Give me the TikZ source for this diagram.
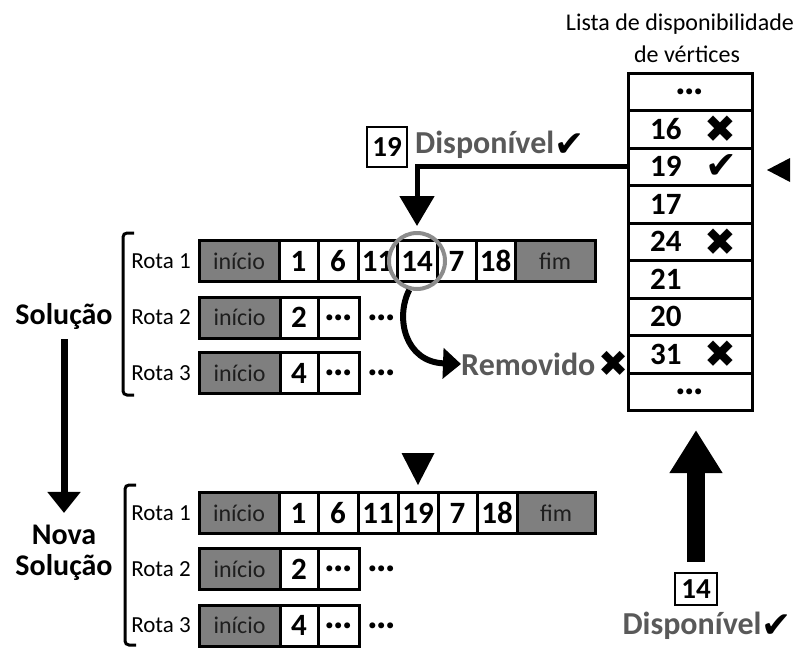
\documentclass[tikz,border=0pt]{standalone}
\usepackage{fontspec}
\setmainfont{Carlito}
\newfontfamily\symfont{DejaVu Sans}
\usetikzlibrary{arrows.meta}

\definecolor{boxgray}{HTML}{7F7F7F}
\definecolor{labelgray}{HTML}{595959}
\definecolor{ringgray}{HTML}{8C8C8C}
\definecolor{inkdark}{HTML}{1E1E1E}

\newcommand{\okmark}{{\symfont\color{black}✔}}
\newcommand{\nomark}{{\symfont\color{black}✖}}
\newcommand{\celldots}{{\fontsize{40}{40}\selectfont\bfseries …}}

\tikzset{
  cellbox/.style={draw=black, line width=3pt, fill=white, inner sep=0pt,
    minimum height=41pt, font=\fontsize{31}{31}\selectfont\bfseries},
  endbox/.style={cellbox, fill=boxgray, text=inkdark,
    font=\fontsize{24}{24}\selectfont\mdseries},
  dotbox/.style={cellbox},
  rotalabel/.style={inner sep=0pt, font=\fontsize{23}{23}\selectfont},
  trail/.style={inner sep=0pt},
  grouplabel/.style={inner sep=0pt, font=\fontsize{30}{30}\selectfont\bfseries},
  bracket/.style={line width=3pt, rounded corners=4pt},
  listrow/.style={draw=black, line width=3pt, fill=white, inner sep=0pt,
    minimum width=124pt, minimum height=37.5pt},
  listnum/.style={anchor=west, inner sep=0pt, font=\fontsize{31}{31}\selectfont\bfseries},
  listmark/.style={inner sep=0pt, font=\fontsize{38}{38}\selectfont},
  status/.style={inner sep=0pt, text=labelgray, font=\fontsize{32}{32}\selectfont\bfseries},
  statusmark/.style={inner sep=0pt, font=\fontsize{36}{36}\selectfont},
  tagbox/.style={draw=black, line width=2.5pt, inner sep=0pt,
    font=\fontsize{29}{29}\selectfont\bfseries},
  title/.style={inner sep=0pt, font=\fontsize{24}{24}\selectfont},
  pointer/.style={fill=black},
}

\begin{document}
\begin{tikzpicture}[x=1pt, y=-1pt]
\useasboundingbox (0,0) rectangle (808,648);

% ---------- current solution ----------
\node[grouplabel] (sol) at (64,316) {Solução};
\draw[bracket] (134,233) -- (123,233) -- (123,395) -- (134,395);

\node[rotalabel] (a1l) at (161,261) {Rota 1};
\node[endbox, minimum width=80pt] (a1s) at (239,261) {início};
\node[cellbox, minimum width=39pt] (a1c1) at (298.5,261) {1};
\node[cellbox, minimum width=40pt] (a1c2) at (338,261) {6};
\node[cellbox, minimum width=39pt] (a1c3) at (377.5,261) {11};
\node[cellbox, minimum width=40pt] (a1c4) at (417,261) {14};
\node[cellbox, minimum width=39pt] (a1c5) at (456.5,261) {7};
\node[cellbox, minimum width=39pt] (a1c6) at (495.5,261) {18};
\node[endbox, minimum width=80pt] (a1e) at (555,261) {fim};

\node[rotalabel] (a2l) at (161,317.5) {Rota 2};
\node[endbox, minimum width=81pt] (a2s) at (239.5,317.5) {início};
\node[cellbox, minimum width=38pt] (a2c1) at (299,317.5) {2};
\node[dotbox, minimum width=41pt] (a2c2) at (338.5,317.5) {\celldots};
\node[trail] (a2t) at (382,317.5) {\celldots};

\node[rotalabel] (a3l) at (161,373) {Rota 3};
\node[endbox, minimum width=81pt] (a3s) at (239.5,373) {início};
\node[cellbox, minimum width=38pt] (a3c1) at (299,373) {4};
\node[dotbox, minimum width=41pt] (a3c2) at (338.5,373) {\celldots};
\node[trail] (a3t) at (382,373) {\celldots};

% ring around the removed vertex
\node[draw=ringgray, line width=4pt, circle, minimum size=56pt, inner sep=0pt] (ring) at (417,261) {};

% ---------- new solution ----------
\node[grouplabel] (nova) at (64,535) {Nova};
\node[grouplabel] (nsol) at (64,567) {Solução};
\draw[bracket] (136,485) -- (125,485) -- (125,645) -- (136,645);

\node[rotalabel] (b1l) at (161,513) {Rota 1};
\node[endbox, minimum width=80pt] (b1s) at (239,513) {início};
\node[cellbox, minimum width=39pt] (b1c1) at (298.5,513) {1};
\node[cellbox, minimum width=40pt] (b1c2) at (338,513) {6};
\node[cellbox, minimum width=40pt] (b1c3) at (378,513) {11};
\node[cellbox, minimum width=40pt] (b1c4) at (418,513) {19};
\node[cellbox, minimum width=39pt] (b1c5) at (457.5,513) {7};
\node[cellbox, minimum width=40pt] (b1c6) at (497,513) {18};
\node[endbox, minimum width=78pt] (b1e) at (556,513) {fim};

\node[rotalabel] (b2l) at (161,569) {Rota 2};
\node[endbox, minimum width=81pt] (b2s) at (239.5,569) {início};
\node[cellbox, minimum width=38pt] (b2c1) at (299,569) {2};
\node[dotbox, minimum width=41pt] (b2c2) at (338.5,569) {\celldots};
\node[trail] (b2t) at (382,569) {\celldots};

\node[rotalabel] (b3l) at (161,625.5) {Rota 3};
\node[endbox, minimum width=81pt] (b3s) at (239.5,625.5) {início};
\node[cellbox, minimum width=38pt] (b3c1) at (299,625.5) {4};
\node[dotbox, minimum width=41pt] (b3c2) at (338.5,625.5) {\celldots};
\node[trail] (b3t) at (382,625.5) {\celldots};

% marker above the inserted vertex
\fill[pointer] (401.5,453) -- (434.5,453) -- (418,485) -- cycle;

% from the solution to the new solution
\draw[line width=7pt, -{Triangle[length=21pt,width=32pt]}]
  ([yshift=-10pt]sol.south) -- ([yshift=12pt]nova.north);

% ---------- vertex availability list ----------
\node[title] (t1) at (680,24) {Lista de disponibilidade};
\node[title] (t2) at (687,54) {de vértices};

\node[listrow] (l0) at (690,91.75)  {\celldots};
\node[listrow] (l1) at (690,129.25) {};
\node[listrow] (l2) at (690,166.75) {};
\node[listrow] (l3) at (690,204.25) {};
\node[listrow] (l4) at (690,241.75) {};
\node[listrow] (l5) at (690,279.25) {};
\node[listrow] (l6) at (690,316.75) {};
\node[listrow] (l7) at (690,354.25) {};
\node[listrow] (l8) at (690,391.75) {\celldots};

\node[listnum] (n16) at (650,129.25) {16};
\node[listnum] (n19) at (650,166.75) {19};
\node[listnum] (n17) at (650,204.25) {17};
\node[listnum] (n24) at (650,241.75) {24};
\node[listnum] (n21) at (650,279.25) {21};
\node[listnum] (n20) at (650,316.75) {20};
\node[listnum] (n31) at (650,354.25) {31};

\node[listmark] (m16) at (720,129.25) {\nomark};
\node[listmark] (m19) at (721,166.75) {\okmark};
\node[listmark] (m24) at (720,241.75) {\nomark};
\node[listmark] (m31) at (720,354.25) {\nomark};

% current position in the list
\fill[pointer] (767,170) -- (790,158) -- (790,182) -- cycle;

% vertex 19 taken from the list into route 1
\node[tagbox, minimum width=40pt, minimum height=40pt] (tag19) at (387,147) {19};
\node[status, anchor=west] (disp19) at (415,145) {Disponível};
\node[statusmark, anchor=west] (ok19) at (disp19.east) {\okmark};
\draw[line width=5pt, -{Triangle[length=30pt,width=34pt]}]
  (l2.west) -| ([yshift=5pt]ring.north);

% vertex 14 removed from route 1
\node[status, anchor=west] (rem) at (461,364) {Removido};
\node[statusmark, anchor=west] (no14) at ([xshift=3pt]rem.east) {\nomark};
\draw[line width=6pt, -{Triangle[length=18pt,width=30pt]}]
  (ring.255) .. controls (395,318) and (405,362) .. (rem.west);

% vertex 14 returned to the list
\node[tagbox, minimum width=42pt, minimum height=32pt] (tag14) at (696,589) {14};
\node[status] (disp14) at (692,626) {Disponível};
\node[statusmark, anchor=west] (ok14) at (disp14.east) {\okmark};
\draw[line width=18pt, -{Triangle[length=43pt,width=50pt]}]
  ([yshift=10pt]tag14.north) -- ([yshift=-18pt]l8.south -| tag14.north);
\end{tikzpicture}
\end{document}
